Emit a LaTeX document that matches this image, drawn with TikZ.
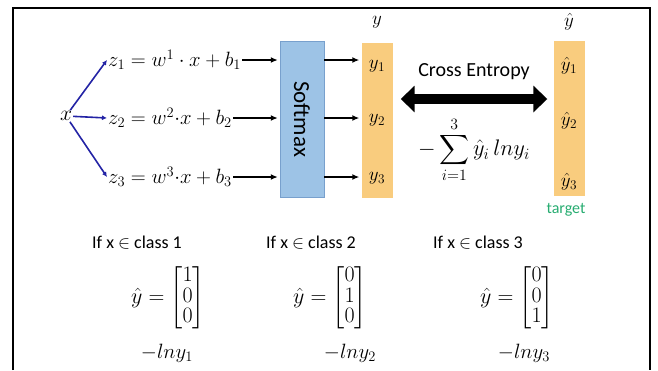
\documentclass[tikz,border=0pt]{standalone}
\usepackage{fix-cm}
\usepackage{amsmath}
\usepackage{fontspec}
\setsansfont{Carlito}
\usetikzlibrary{arrows.meta}
\definecolor{smblue}{RGB}{157,195,230}
\definecolor{smedge}{RGB}{120,160,205}
\definecolor{colorange}{RGB}{249,204,126}
\definecolor{arrowblue}{RGB}{35,35,165}
\definecolor{targetgreen}{RGB}{38,172,112}

\begin{document}
\begin{tikzpicture}[x=1pt,y=-1pt,
    mth/.style={inner sep=1pt,font=\fontsize{20.7}{24}\selectfont},
    cell/.style={inner sep=1pt,font=\fontsize{19}{22}\selectfont},
    col/.style={fill=colorange,minimum width=31pt,minimum height=155pt,inner sep=0pt},
    cls/.style={font=\fontsize{18}{21}\selectfont\sffamily},
    blk/.style={-{Latex[length=7pt,width=6pt]},line width=1.8pt,shorten >=2pt},
    blu/.style={-{Latex[length=5pt,width=5pt]},arrowblue,line width=1.6pt}]
  \useasboundingbox (0,0) rectangle (658,370);
  \draw[line width=1.4pt] (13,370) -- (13,8) -- (650,8) -- (650,370);

  % inputs and linear parts
  \node[mth,font=\fontsize{21.5}{26}\selectfont] (x) at (66,116) {$x$};
  \node[mth,anchor=west] (z1) at (107,60) {$z_1 = w^1\cdot x + b_1$};
  \node[mth,anchor=west] (z2) at (107,118) {$z_2 = w^2{\cdot}x + b_2$};
  \node[mth,anchor=west] (z3) at (107,177) {$z_3 = w^3{\cdot}x + b_3$};
  \draw[blu] (x) -- (z1.west);
  \draw[blu] (x) -- (z2.west);
  \draw[blu] (x) -- (z3.west);

  % softmax
  \node[fill=smblue,draw=smedge,minimum width=44pt,minimum height=156pt,
    inner sep=0pt] (softmax) at (302,119) {};
  \node[rotate=-90,font=\fontsize{23}{26}\selectfont\sffamily] at (softmax) {Softmax};
  \foreach \i in {1,2,3}
    \draw[blk] (z\i.east) -- (softmax.west |- z\i);

  % output column
  \node[col] (ycol) at (377,120) {};
  \node[cell] at (377,22) {$y$};
  \node[cell] (y1) at (377,66) {$y_1$};
  \node[cell] (y2) at (377,120) {$y_2$};
  \node[cell] (y3) at (377,178) {$y_3$};
  \foreach \i in {1,2,3}
    \draw[blk] (softmax.east |- z\i) -- (ycol.west |- z\i);

  % target column
  \node[col] (tcol) at (569,118) {};
  \node[cell] at (569,22) {$\hat{y}$};
  \node[cell] (t1) at (569,66) {$\hat{y}_1$};
  \node[cell] (t2) at (569,121) {$\hat{y}_2$};
  \node[cell] (t3) at (569,182) {$\hat{y}_3$};
  \node[cls,font=\fontsize{16}{19}\selectfont\sffamily,text=targetgreen] (target) at (566,210) {target};

  % cross entropy
  \coordinate (ce) at (474,99);
  \node[font=\fontsize{20}{23}\selectfont\sffamily] (celabel) at (474,72) {Cross Entropy};
  \draw[{Triangle[length=14pt,width=26pt]}-{Triangle[length=14pt,width=26pt]},
    line width=10pt,shorten <=8pt,shorten >=6pt] (ycol.east |- ce) -- (tcol.west |- ce);
  \node[mth,font=\fontsize{22.5}{26}\selectfont] (loss) at (474,150)
    {$\displaystyle -\sum_{i=1}^{3}\hat{y}_i\,lny_i$};

  % one-hot cases
  \node[cls] (c1) at (137,243) {If x $\in$ class 1};
  \node[cls] (c2) at (311,243) {If x $\in$ class 2};
  \node[cls] (c3) at (478,243) {If x $\in$ class 3};
  \renewcommand{\arraystretch}{0.8}
  \node[mth,font=\fontsize{22}{26}\selectfont] (v1) at (168,298) {$\hat{y} = \begin{bmatrix}1\\0\\0\end{bmatrix}$};
  \node[mth,font=\fontsize{22}{26}\selectfont] (v2) at (330,298) {$\hat{y} = \begin{bmatrix}0\\1\\0\end{bmatrix}$};
  \node[mth,font=\fontsize{22}{26}\selectfont] (v3) at (517,298) {$\hat{y} = \begin{bmatrix}0\\0\\1\end{bmatrix}$};
  \node[mth] (l1) at (167,353) {$-lny_1$};
  \node[mth] (l2) at (350,353) {$-lny_2$};
  \node[mth] (l3) at (524,353) {$-lny_3$};
\end{tikzpicture}
\end{document}
